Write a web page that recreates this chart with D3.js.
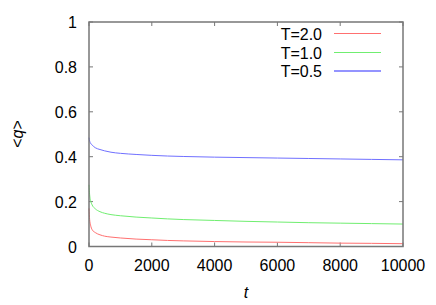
<!DOCTYPE html>
<html><head><meta charset="utf-8">
<script src="https://cdn.jsdelivr.net/npm/d3@7"></script>
<style>body{margin:0;background:#fff}svg{display:block}text{font-family:"Liberation Sans",Arial,sans-serif}</style>
</head><body>
<script>
const tPoints = [0, 20, 50, 100, 200, 350, 500, 700, 1000, 1500, 2000, 2500, 3000, 4000, 5000, 6000, 7000, 8000, 9000, 10000];
const qT20 = [0.17, 0.12, 0.095, 0.075, 0.062, 0.052, 0.046, 0.042, 0.038, 0.033, 0.03, 0.027, 0.025, 0.022, 0.02, 0.019, 0.017, 0.015, 0.014, 0.0125];
const qT10 = [0.275, 0.23, 0.205, 0.185, 0.168, 0.155, 0.148, 0.142, 0.137, 0.131, 0.127, 0.123, 0.12, 0.116, 0.112, 0.109, 0.106, 0.104, 0.102, 0.100];
const qT05 = [0.485, 0.47, 0.46, 0.452, 0.44, 0.432, 0.426, 0.42, 0.415, 0.41, 0.406, 0.403, 0.401, 0.398, 0.396, 0.394, 0.392, 0.39, 0.388, 0.386];
const seriesNames = ["T=2.0", "T=1.0", "T=0.5"];
const xTicks = [0, 2000, 4000, 6000, 8000, 10000];
const yTicks = [0, 0.2, 0.4, 0.6, 0.8, 1];

const W = 436, H = 305;
const L = 89, R = 403, T = 22, B = 246.5;
const svg = d3.select("body").append("svg").attr("width", W).attr("height", H);
const x = d3.scaleLinear().domain([0, 10000]).range([L, R]);
const y = d3.scaleLinear().domain([0, 1]).range([B, T]);
const gray = "#777";
const fs = 16;

// ticks (mirrored, inward)
const g = svg.append("g");
xTicks.forEach(v => {
  g.append("line").attr("x1", x(v)).attr("x2", x(v)).attr("y1", B).attr("y2", B - 4).attr("stroke", gray);
  g.append("line").attr("x1", x(v)).attr("x2", x(v)).attr("y1", T).attr("y2", T + 4).attr("stroke", gray);
  g.append("text").attr("x", x(v)).attr("y", 271).attr("text-anchor", "middle").attr("font-size", fs).text(v);
});
yTicks.forEach(v => {
  g.append("line").attr("x1", L).attr("x2", L + 4).attr("y1", y(v)).attr("y2", y(v)).attr("stroke", gray);
  g.append("line").attr("x1", R).attr("x2", R - 4).attr("y1", y(v)).attr("y2", y(v)).attr("stroke", gray);
  g.append("text").attr("x", 77).attr("y", y(v) + 6).attr("text-anchor", "end").attr("font-size", fs).text(v);
});

// curves
const colors = ["#ff7070", "#70ee70", "#7070ff"];
const data = [qT20, qT10, qT05];
const line = d3.line().x((d, i) => x(tPoints[i])).y(d => y(d)).curve(d3.curveMonotoneX);
data.forEach((s, k) => {
  svg.append("path").attr("d", line(s)).attr("fill", "none").attr("stroke", colors[k]).attr("stroke-width", 1);
});

// frame
svg.append("rect").attr("x", L).attr("y", T).attr("width", R - L).attr("height", B - T)
  .attr("fill", "none").attr("stroke", gray).attr("stroke-width", 1.5);

// legend
const legY = [33.5, 52.5, 71];
seriesNames.forEach((n, k) => {
  svg.append("text").attr("x", 322).attr("y", legY[k] + 6).attr("text-anchor", "end").attr("font-size", fs).text(n);
  svg.append("line").attr("x1", 334).attr("x2", 381).attr("y1", legY[k]).attr("y2", legY[k]).attr("stroke", colors[k]).attr("stroke-width", k === 2 ? 1.5 : 1);
});

// axis labels
svg.append("text").attr("transform", "translate(23,134) rotate(-90)").attr("text-anchor", "middle").attr("font-size", fs)
  .html('&lt;<tspan font-style="italic">q</tspan>&gt;');
svg.append("text").attr("x", 246).attr("y", 298).attr("text-anchor", "middle").attr("font-size", fs).attr("font-style", "italic").text("t");
</script>
</body></html>
